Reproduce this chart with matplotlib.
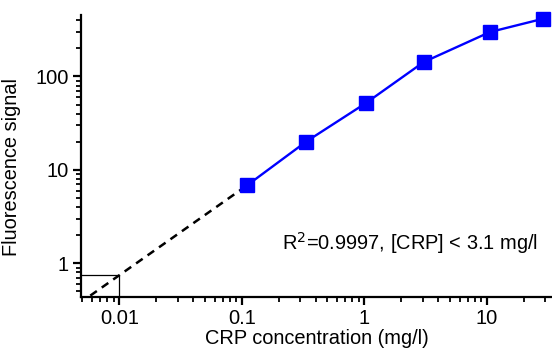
import matplotlib
matplotlib.use("Agg")
import matplotlib.pyplot as plt
from matplotlib.ticker import LogLocator, NullFormatter, FixedLocator, FixedFormatter

plt.rcParams['font.family'] = ['Liberation Sans', 'DejaVu Sans']

# data
conc = [0.11, 0.336, 1.03, 3.05, 10.6, 28.8]
signal = [6.8, 20.1, 51.9, 142.6, 299, 415]
fit_x = [0.0058, 0.11]
fit_y = [0.45, 6.8]
lod_x = 0.01
lod_y = 0.743
xticks = [0.01, 0.1, 1, 10]
xticklabels = ["0.01", "0.1", "1", "10"]
yticks = [1, 10, 100]
yticklabels = ["1", "10", "100"]
annot = r"R$^2$=0.9997, [CRP] < 3.1 mg/l"

fig = plt.figure(figsize=(5.52, 3.49), dpi=100)
ax = fig.add_axes([81/552, 1-297/349, 1-81/552, (297-15)/349])
ax.set_xscale('log')
ax.set_yscale('log')
ax.set_xlim(0.00487, 34)
ax.set_ylim(0.435, 455)

ax.plot([ax.get_xlim()[0], lod_x, lod_x], [lod_y, lod_y, ax.get_ylim()[0]],
        color='black', lw=0.9, zorder=2)
ax.plot(fit_x, fit_y, color='black', lw=1.8, ls=(0, (3.2, 2.4)), zorder=3)
ax.plot(conc, signal, color='#0000FF', lw=1.7, marker='s', ms=10,
        mfc='#0000FF', mec='#0000FF', zorder=4, clip_on=False)

for s in ['top', 'right']:
    ax.spines[s].set_visible(False)
for s in ['left', 'bottom']:
    ax.spines[s].set_linewidth(1.6)

ax.xaxis.set_major_locator(FixedLocator(xticks))
ax.xaxis.set_major_formatter(FixedFormatter(xticklabels))
ax.yaxis.set_major_locator(FixedLocator(yticks))
ax.yaxis.set_major_formatter(FixedFormatter(yticklabels))
ax.xaxis.set_minor_locator(LogLocator(base=10, subs=range(2, 10), numticks=20))
ax.yaxis.set_minor_locator(LogLocator(base=10, subs=range(2, 10), numticks=20))
ax.xaxis.set_minor_formatter(NullFormatter())
ax.yaxis.set_minor_formatter(NullFormatter())
ax.tick_params(which='major', direction='out', length=6, width=1.6, labelsize=14.5, pad=3, colors='black')
ax.tick_params(which='minor', direction='out', length=3.5, width=1.3)

ax.set_xlabel("CRP concentration (mg/l)", fontsize=14.4, labelpad=0)
ax.set_ylabel("Fluorescence signal", fontsize=14.4)
ax.yaxis.set_label_coords(-0.128, 0.461)

ax.text(538/552, 1-243/349, annot, transform=fig.transFigure, ha='right', va='center', fontsize=14.4)

fig.savefig("out.png", dpi=100)
